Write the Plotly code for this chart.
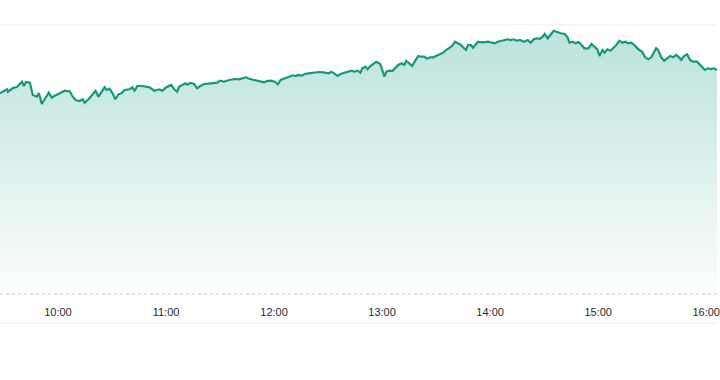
import datetime as dt
import plotly.graph_objects as go

# minutes after 09:27:48 and price
minutes = [0.0, 3.9, 4.4, 7.2, 9.4, 12.2, 13.3, 14.4, 16.6, 18.2, 20.5, 21.6, 23.2, 25.4, 27.1, 28.8, 30.4, 33.2,
           35.9, 38.7, 40.4, 42.0, 44.2, 45.9, 47.0, 49.2, 51.4, 53.1, 54.7, 56.4, 58.1, 59.2, 60.8, 62.5, 64.1, 65.8,
           67.5, 69.1, 71.9, 73.5, 74.7, 76.3, 79.1, 83.0, 85.7, 88.5, 90.1, 92.4, 95.1, 96.8, 98.4, 99.5, 101.2,
           102.9, 104.0, 105.6, 107.8, 109.5, 111.2, 113.4, 117.2, 120.6, 122.2, 124.4, 127.2, 130.5, 132.7,
           136.6, 138.3, 141.0, 143.8, 146.5, 148.2, 150.4, 152.6, 154.3, 155.9, 157.6, 160.4, 162.6, 164.2, 165.9,
           167.6, 169.2, 171.4, 174.2, 177.0, 179.7, 182.5, 184.1, 185.8, 187.5, 189.1, 191.3, 193.6, 195.2, 196.9,
           198.5, 200.2, 201.3, 203.0, 204.1, 205.7, 207.4, 209.0, 211.2, 212.4, 213.5, 214.6, 216.2, 217.9, 219.5,
           221.2, 222.9, 224.5, 225.6, 227.3, 228.9, 230.6, 232.3, 233.9, 235.6, 237.2, 238.9, 240.6, 242.2, 244.4,
           246.1, 247.7, 249.4, 251.1, 252.7, 254.4, 256.0, 257.7, 258.8, 259.9, 261.6, 262.7, 264.3, 265.4,
           268.2, 271.0, 273.2, 274.8, 276.5, 279.3, 282.0, 283.7, 285.3, 287.0, 288.7, 290.9, 293.1, 294.7, 296.4,
           298.1, 299.7, 301.4, 302.5, 304.2, 305.8, 307.5, 309.1, 311.3, 313.6, 315.2, 316.3, 318.0, 319.6, 321.3,
           323.0, 324.6, 326.8, 328.5, 330.1, 331.8, 332.9, 334.6, 335.7, 337.3, 339.0, 340.6, 342.3, 344.0, 345.6,
           347.3, 348.9, 350.6, 352.3, 354.5, 356.7, 358.3, 360.0, 361.7, 363.3, 364.4, 365.5, 367.2, 368.9, 370.5,
           372.2, 373.8, 375.5, 377.1, 378.3, 379.9, 381.6, 383.2, 384.9, 387.1, 388.8, 390.4, 391.5, 393.2, 394.8,
           396.5, 398.2]
prices = [190.67, 191.07, 190.83, 191.2, 191.3, 191.83, 191.4, 191.8, 191.73, 190.5, 190.33, 190.7, 189.6, 190.2,
          190.73, 190.23, 190.43, 190.67, 190.93, 190.87, 190.33, 190.0, 189.9, 190.07, 189.73, 190.07, 190.5, 190.93,
          190.33, 190.83, 191.27, 191.0, 191.13, 190.67, 190.07, 190.57, 190.67, 191.0, 191.07, 191.27, 190.93, 191.4,
          191.4, 191.27, 190.93, 191.07, 190.93, 191.27, 191.5, 191.07, 190.83, 191.33, 191.5, 191.67, 191.53, 191.7,
          191.6, 191.17, 191.4, 191.6, 191.67, 191.73, 191.93, 191.83, 192.0, 192.1, 192.07,
          192.27, 192.13, 192.0, 191.9, 191.77, 191.9, 191.93, 191.83, 191.57, 192.0, 192.1, 192.27, 192.47, 192.4,
          192.5, 192.43, 192.6, 192.67, 192.73, 192.8, 192.77, 192.67, 192.83, 192.6, 192.4, 192.6, 192.73, 192.83,
          192.93, 192.83, 192.93, 192.73, 193.17, 193.33, 193.07, 193.4, 193.67, 193.83, 193.6, 193.0, 192.33, 192.83,
          192.93, 192.9, 193.17, 193.5, 193.67, 193.5, 193.93, 193.67, 193.4, 193.93, 194.4, 194.33, 194.33, 194.13,
          194.27, 194.27, 194.4, 194.6, 194.73, 195.0, 195.17, 195.4, 195.83, 195.67, 195.5, 195.17, 195.0, 195.5,
          195.5, 195.23, 195.6, 195.8,
          195.77, 195.83, 195.73, 195.67, 195.83, 195.93, 196.07, 196.0, 196.07, 195.93, 196.0, 195.83, 196.0, 195.73,
          196.07, 196.17, 196.1, 196.33, 196.6, 196.17, 196.5, 196.93, 196.83, 196.67, 196.6, 196.27, 195.73, 195.83,
          195.67, 195.8, 195.5, 195.17, 195.17, 195.6, 195.33, 195.07, 194.4, 195.0, 194.73, 195.07, 194.93, 195.17,
          195.5, 195.93, 195.73, 195.83, 195.67, 195.73, 195.5, 195.07, 194.83, 194.27, 194.07, 194.27, 194.73, 195.17,
          195.0, 194.27, 193.93, 194.17, 194.4, 194.27, 194.5, 194.27, 194.0, 194.4, 194.57, 194.0, 193.83, 193.83,
          193.5, 193.17, 193.0, 193.17, 193.1, 193.17, 193.0]
tick_labels = ["10:00", "11:00", "12:00", "13:00", "14:00", "15:00", "16:00"]

base = dt.datetime(2024, 1, 2, 9, 27, 48)
times = [base + dt.timedelta(minutes=m) for m in minutes]
tick_vals = [dt.datetime(2024, 1, 2, int(t[:2]), int(t[3:])) for t in tick_labels]

y_min, y_max = 170.6, 197.5

fig = go.Figure()
fig.add_trace(go.Scatter(
    x=times, y=prices, mode="lines",
    line=dict(color="#15997a", width=2.2),
    fill="tozeroy",
    fillgradient=dict(type="vertical", start=y_min, stop=y_max,
                      colorscale=[[0, "rgba(22,160,133,0.01)"], [1, "rgba(22,160,133,0.30)"]]),
    hoverinfo="skip",
))

fig.update_layout(
    width=720, height=380,
    margin=dict(l=0, r=0, t=25, b=86),
    paper_bgcolor="white", plot_bgcolor="white",
    showlegend=False,
    xaxis=dict(range=[base, base + dt.timedelta(minutes=398.2)],
               tickvals=tick_vals, ticktext=tick_labels,
               showgrid=False, zeroline=False, showline=False,
               ticks="outside", ticklen=8, tickcolor="rgba(0,0,0,0)",
               ticklabeloverflow="allow",
               tickfont=dict(family="Liberation Sans, Arial", size=11, color="#2b2b2b")),
    yaxis=dict(range=[y_min, y_max], showgrid=False, zeroline=False,
               showticklabels=False, showline=False),
    shapes=[
        dict(type="line", xref="paper", yref="paper", x0=0, x1=1, y0=1, y1=1,
             line=dict(color="#ebebeb", width=1)),
        dict(type="line", xref="paper", yref="paper", x0=0, x1=1, y0=0, y1=0,
             line=dict(color="#c8c8c8", width=1, dash="dot")),
        dict(type="line", xref="paper", yref="paper", x0=0, x1=1, y0=-0.108, y1=-0.108,
             line=dict(color="#eeeeee", width=1)),
    ],
)

fig.write_html("out.html")
